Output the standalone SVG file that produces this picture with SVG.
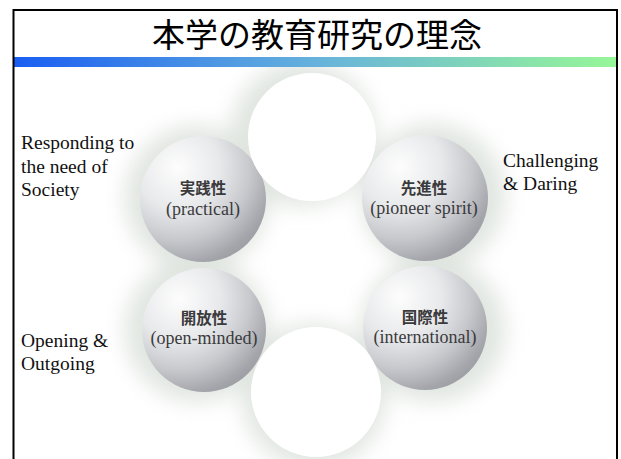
<svg xmlns="http://www.w3.org/2000/svg" width="621" height="459" viewBox="0 0 621 459">
  <style>
    .title { font-family: "Noto Sans CJK JP", "Noto Sans", sans-serif; font-size: 33px; fill: #000; }
    .side { font-family: "Liberation Serif", "Times New Roman", serif; font-size: 19.5px; fill: #111; }
    .jp { font-family: "Noto Sans CJK JP", "Noto Sans", sans-serif; font-size: 15.5px; font-weight: 700; fill: #3a3a3c; text-anchor: middle; }
    .en { font-family: "Liberation Serif", "Times New Roman", serif; font-size: 18px; fill: #3a3a3c; text-anchor: middle; }
    .ball { fill: url(#ballShade); }
    .blank { fill: #ffffff; }
  </style>
  <defs>
    <linearGradient id="barGrad" x1="0" y1="0" x2="1" y2="0">
      <stop offset="0" stop-color="#1a5ef2"/>
      <stop offset="0.5" stop-color="#66b2dc"/>
      <stop offset="1" stop-color="#97f797"/>
    </linearGradient>
    <radialGradient id="ballShade" cx="0.3" cy="0.25" r="0.95" fx="0.3" fy="0.25">
      <stop offset="0" stop-color="#fdfdfd"/>
      <stop offset="0.35" stop-color="#e8e9eb"/>
      <stop offset="0.6" stop-color="#c8c9cd"/>
      <stop offset="0.8" stop-color="#a4a6ab"/>
      <stop offset="1" stop-color="#8d9095"/>
    </radialGradient>
    <filter id="haze" x="-30%" y="-30%" width="160%" height="160%">
      <feGaussianBlur stdDeviation="11"/>
    </filter>
  </defs>

  <rect width="621" height="459" fill="#ffffff"/>

  <!-- soft shadow under the ring of spheres -->
  <g id="ring-shadow" filter="url(#haze)" fill="#d6ddd6" opacity="0.75">
    <circle cx="303" cy="134" r="72"/>
    <circle cx="197" cy="198" r="72"/>
    <circle cx="433" cy="196" r="72"/>
    <circle cx="197" cy="330" r="72"/>
    <circle cx="433" cy="330" r="72"/>
    <circle cx="314" cy="396" r="72"/>
  </g>

  <!-- shaded spheres -->
  <g id="practical">
    <circle class="ball" cx="203" cy="199" r="63"/>
    <text class="jp" x="203" y="194">実践性</text>
    <text class="en" x="203" y="215">(practical)</text>
  </g>
  <g id="pioneer">
    <circle class="ball" cx="425" cy="198" r="63"/>
    <text class="jp" x="424" y="194">先進性</text>
    <text class="en" x="424" y="214">(pioneer spirit)</text>
  </g>
  <g id="open-minded">
    <circle class="ball" cx="204" cy="330" r="62"/>
    <text class="jp" x="204" y="324">開放性</text>
    <text class="en" x="204" y="344">(open-minded)</text>
  </g>
  <g id="international">
    <circle class="ball" cx="425" cy="328" r="62"/>
    <text class="jp" x="425" y="323">国際性</text>
    <text class="en" x="425" y="343">(international)</text>
  </g>

  <!-- plain white spheres at top and bottom of the ring -->
  <g id="top-blank">
    <circle class="blank" cx="312" cy="137" r="64"/>
  </g>
  <g id="bottom-blank">
    <circle class="blank" cx="316" cy="392" r="65"/>
  </g>

  <!-- slide header and frame, drawn over the shadow -->
  <rect x="14" y="11" width="602" height="46" fill="#ffffff"/>
  <rect x="14" y="57" width="603" height="10" fill="url(#barGrad)"/>
  <text class="title" x="317" y="47" text-anchor="middle">本学の教育研究の理念</text>
  <rect x="13.5" y="10" width="603.5" height="470" fill="none" stroke="#000" stroke-width="2"/>

  <!-- side captions -->
  <g id="society-caption">
    <text class="side" x="21" y="149">Responding to</text>
    <text class="side" x="21" y="173">the need of</text>
    <text class="side" x="21" y="196">Society</text>
  </g>
  <g id="daring-caption">
    <text class="side" x="503" y="167">Challenging</text>
    <text class="side" x="503" y="190">&amp; Daring</text>
  </g>
  <g id="outgoing-caption">
    <text class="side" x="21" y="347">Opening &amp;</text>
    <text class="side" x="21" y="370">Outgoing</text>
  </g>
</svg>
